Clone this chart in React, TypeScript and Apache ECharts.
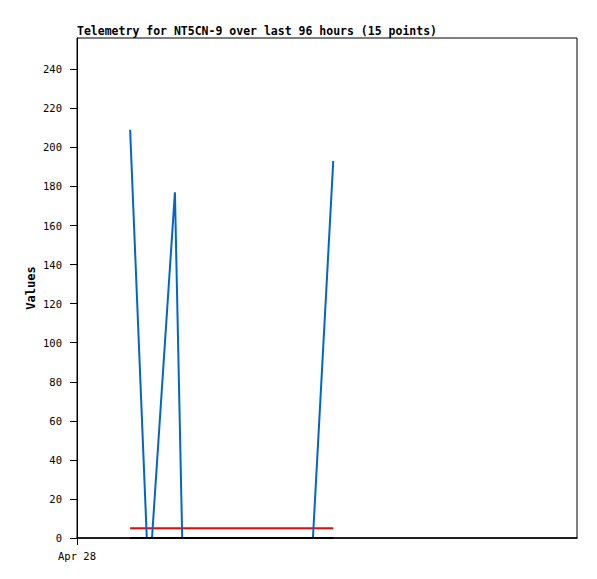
import React, { useEffect, useRef } from "react";
import * as echarts from "echarts";

const titleText = "Telemetry for NT5CN-9 over last 96 hours (15 points)";
const yAxisName = "Values";
// hours since Apr 28 00:00
const blueHours = [10.2, 13.4, 14.4, 18.8, 20.2, 45.3, 49.2];
const blueValues = [209, 0, 0, 177, 0, 0, 193];
const redHours = [10.2, 49.2];
const redValues = [5, 5];
const blackHours = [10.2, 49.2];
const blackValues = [0, 0];
const yTicks = [0, 20, 40, 60, 80, 100, 120, 140, 160, 180, 200, 220, 240];
const xTickHours = [0];
const xTickLabels = ["Apr 28"];

export default function App() {
  const ref = useRef<HTMLDivElement>(null);
  useEffect(() => {
    if (!ref.current) return;
    const chart = echarts.init(ref.current, null, { renderer: "svg" });
    const mono = "DejaVu Sans Mono";
    const pair = (xs: number[], ys: number[]) => xs.map((x, i) => [x, ys[i]]);
    chart.setOption({
      animation: false,
      backgroundColor: "#fff",
      title: {
        text: titleText,
        left: 77,
        top: 25,
        padding: 0,
        textStyle: { fontFamily: mono, fontSize: 11.5, fontWeight: "bold", color: "#000" },
      },
      graphic: [
        {
          type: "text",
          x: 31,
          y: 288,
          rotation: Math.PI / 2,
          style: {
            text: yAxisName,
            fontFamily: mono,
            fontSize: 12,
            fontWeight: "bold",
            fill: "#000",
            textAlign: "center",
            textVerticalAlign: "middle",
          },
        },
      ],
      grid: {
        left: 77,
        top: 38,
        width: 500,
        height: 500,
        show: true,
        borderColor: "#000",
        borderWidth: 1,
        backgroundColor: "transparent",
      },
      xAxis: {
        type: "value",
        min: 0,
        max: 96,
        axisLine: { show: true, lineStyle: { color: "#000", width: 1.5 } },
        axisTick: { show: true, length: 7, lineStyle: { color: "#000" }, customValues: xTickHours },
        axisLabel: {
          customValues: xTickHours,
          formatter: (v: number) => {
            const i = xTickHours.indexOf(v);
            return i >= 0 ? xTickLabels[i] : "";
          },
          fontFamily: mono,
          fontSize: 10.5,
          color: "#000",
          margin: 12,
        },
        splitLine: { show: false },
      },
      yAxis: {
        type: "value",
        min: 0,
        max: 256,
        axisLine: { show: true, lineStyle: { color: "#000", width: 1 } },
        axisTick: { show: true, length: 7, lineStyle: { color: "#000" }, customValues: yTicks },
        axisLabel: {
          customValues: yTicks,
          fontFamily: mono,
          fontSize: 10.5,
          color: "#000",
          margin: 15,
        },
        splitLine: { show: false },
      },
      series: [
        {
          type: "line",
          data: pair(redHours, redValues),
          showSymbol: false,
          lineStyle: { color: "#ff0000", width: 2 },
          z: 2,
        },
        {
          type: "line",
          data: pair(blueHours, blueValues),
          showSymbol: false,
          lineStyle: { color: "#0066cc", width: 2 },
          z: 3,
        },
        {
          type: "line",
          data: pair(blackHours, blackValues),
          showSymbol: false,
          lineStyle: { color: "#000000", width: 2 },
          z: 4,
        },
      ],
    });
    return () => chart.dispose();
  }, []);
  return (
    <div
      ref={ref}
      style={{ position: "fixed", left: 0, top: 0, width: 597, height: 579, background: "#fff" }}
    />
  );
}
